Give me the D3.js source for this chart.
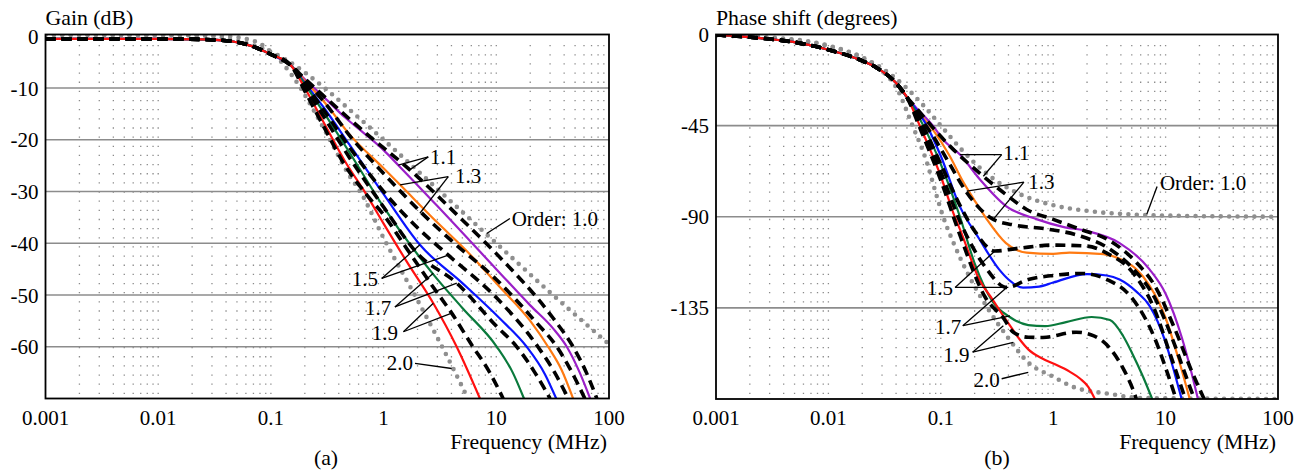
<!DOCTYPE html>
<html>
<head>
<meta charset="utf-8">
<script src="https://cdn.jsdelivr.net/npm/d3@7"></script>
<style>
  body { margin: 0; background: #fff; }
</style>
</head>
<body>
<svg id="chart" width="1308" height="472" font-family="'Liberation Serif', 'Times New Roman', 'DejaVu Serif', serif"></svg>
<script>
// ---- data ----
const freqTicks = [0.001, 0.01, 0.1, 1, 10, 100];
const freqLabels = ["0.001", "0.01", "0.1", "1", "10", "100"];
const gainTicks = [0, -10, -20, -30, -40, -50, -60];
const phaseTicks = [0, -45, -90, -135];

// gain (dB) vs frequency (MHz)
const gainLow = [[0.001, -0.5], [0.01, -0.5], [0.025, -0.6], [0.046, -1.0], [0.07, -2.0], [0.1, -3.5], [0.15, -5.6]];
const gainOrder10 = [[0.001, 0.3], [0.02, 0.2], [0.04, -0.4], [0.06, -1.3], [0.1, -3.0], [0.15, -5.1], [0.2, -7], [0.3, -10], [0.5, -14.2], [1, -20], [3, -29.5], [10, -40], [30, -49.5], [100, -59.5]];
const gainOrder20 = [[0.001, 0.3], [0.03, 0.2], [0.06, -0.5], [0.08, -1.4], [0.1, -3], [0.13, -5.5], [0.18, -9.7], [0.25, -15], [0.334, -20], [0.5, -27], [0.62, -30], [1, -39], [2, -51], [4.1, -64], [5.6, -70]];
const gain11 = [[0.2, -8.3], [0.3, -11.9], [0.45, -15.6], [0.66, -18.6], [1, -22], [1.35, -24.9], [3, -32.8], [10, -45], [20, -52], [32, -56.5], [42.2, -60], [55, -65], [68, -70]];
const gain11d = [[0.2, -8.2], [0.3, -11.7], [0.66, -18.3], [1.71, -25.8], [5, -35.5], [10, -42], [32, -54.5], [48, -60], [63, -65], [78, -70]];
const gain13 = [[0.2, -8.6], [0.3, -12.8], [0.5, -19], [1, -25.5], [1.4, -28.7], [3, -36], [5.3, -41.2], [10.8, -48.5], [20, -55], [28.8, -60], [38, -64.5], [48, -70]];
const gain13d = [[0.2, -8.6], [0.3, -12.8], [0.5, -19.2], [1, -26.5], [2.1, -33.8], [4, -39.5], [10, -47], [22, -55], [34.4, -60], [47, -65], [61, -70]];
const gain15 = [[0.2, -9], [0.3, -14], [0.5, -21], [1, -30.5], [2.1, -40.3], [5, -47.7], [10.7, -54.5], [18.6, -60], [27, -65.3], [34, -70]];
const gain15d = [[0.2, -9.2], [0.3, -14.5], [0.5, -21.5], [1, -30], [2, -37], [3.75, -42.3], [10, -50.5], [23.4, -60], [33, -65], [43.5, -70]];
const gain17 = [[0.2, -9.3], [0.3, -15], [0.5, -22.5], [1, -33], [2.76, -46], [5, -52.5], [10.1, -60], [14, -65], [17.6, -70]];
const gain17d = [[0.2, -9.8], [0.3, -15.8], [0.5, -23.5], [1, -33], [2, -42], [4.46, -47.7], [10, -56], [15.2, -60], [22, -65], [30, -70]];
const gain19 = [[0.2, -10], [0.3, -17], [0.45, -24], [0.7, -30.5], [1, -36.2], [1.6, -43.5], [2.76, -51.6], [4.45, -60], [7.16, -70]];
const gain19d = [[0.2, -10.6], [0.3, -17.8], [0.45, -24.8], [0.7, -30.5], [1, -34.5], [1.6, -41], [2.76, -48.5], [4.02, -53.5], [6.2, -60], [8.5, -64.5], [11.5, -70]];

// phase (degrees) vs frequency (MHz)
const phaseLow = [[0.001, -0.2], [0.0025, -1.8], [0.005, -3.8], [0.01, -7.5], [0.02, -13], [0.027, -16.5], [0.04, -24], [0.05, -31]];
const phaseOrder10 = [[0.001, -0.5], [0.003, -1.7], [0.01, -5.7], [0.02, -11.3], [0.03, -16.7], [0.05, -26.6], [0.07, -35], [0.1, -45], [0.15, -56.3], [0.2, -63.4], [0.3, -71.6], [0.5, -78.7], [1, -84.3], [2, -87.1], [5, -88.9], [10, -89.4], [100, -90]];
const phaseOrder20 = [[0.001, -0.5], [0.005, -2.5], [0.01, -5.5], [0.02, -11.5], [0.03, -18], [0.04, -26], [0.056, -45], [0.075, -63], [0.09, -78], [0.105, -90], [0.13, -103], [0.17, -117], [0.26, -135], [0.4, -150], [0.6, -162], [1, -169], [1.5, -174], [3.2, -177.5], [6, -179.5], [100, -180]];
const phase11 = [[0.06, -36], [0.085, -45], [0.105, -52], [0.148, -59.3], [0.223, -71.6], [0.38, -84.7], [0.72, -91.3], [1.22, -95], [1.98, -97], [3.9, -103], [7.2, -116], [10, -128], [14, -150], [17, -167], [19.4, -180]];
const phase11d = [[0.06, -36], [0.085, -46], [0.12, -55], [0.239, -70], [0.38, -79], [0.58, -86.4], [1, -91.3], [1.74, -96.2], [3, -101], [5.5, -112.6], [8, -124], [12, -145], [17, -166], [22, -180]];
const phase13 = [[0.06, -37], [0.085, -47], [0.12, -60], [0.159, -73], [0.2, -82], [0.255, -91], [0.38, -103], [0.58, -107.7], [1.0, -108.3], [1.4, -107.7], [2.8, -108.5], [4, -111], [5.5, -116], [7.2, -124], [10, -140], [13, -160], [16.4, -180]];
const phase13d = [[0.06, -38], [0.085, -50], [0.12, -64], [0.17, -78], [0.293, -91.3], [0.44, -94], [0.87, -96], [1.74, -99.5], [3.2, -106], [5, -115], [8, -130], [12, -153], [15, -168], [18, -180]];
const phase15 = [[0.075, -45], [0.1, -60], [0.148, -85], [0.22, -101], [0.33, -116], [0.4, -121], [0.54, -125], [0.75, -124.5], [1.0, -122.5], [2, -118.3], [3, -119], [3.9, -121], [5.5, -127], [7.2, -134], [10, -152], [12, -167], [13.9, -180]];
const phase15d = [[0.065, -42], [0.1, -64], [0.15, -85], [0.2, -97], [0.303, -106.9], [0.5, -105.5], [1, -104], [2, -104.5], [3, -108], [5, -117], [8, -136], [11, -158], [15, -180]];
const phase17 = [[0.07, -45], [0.1, -64], [0.148, -90], [0.2, -113], [0.29, -132], [0.41, -139.5], [0.6, -143.5], [0.85, -144], [1.3, -142], [2.2, -139.5], [3.2, -141], [4.2, -149], [5.1, -158], [6.3, -169], [7.6, -180]];
const phase17d = [[0.065, -44], [0.1, -68], [0.15, -93], [0.25, -115], [0.386, -124.9], [0.6, -121], [1, -119], [1.8, -118], [3, -121], [5, -130], [8, -150], [10.5, -168], [12.4, -180]];
const phase19 = [[0.065, -45], [0.1, -70], [0.133, -90], [0.15, -97], [0.22, -121], [0.29, -131], [0.36, -139], [0.44, -146], [0.51, -151], [0.6, -155.5], [0.8, -160], [1.0, -162.5], [1.4, -166.5], [1.74, -170], [2.05, -174], [2.35, -180]];
const phase19d = [[0.065, -46], [0.1, -72], [0.15, -100], [0.25, -130], [0.36, -140], [0.442, -147], [0.6, -149.5], [0.81, -149.6], [1.6, -147], [2.3, -148.8], [3.2, -155], [4.2, -165], [5.1, -175], [5.5, -180]];

const orderColors = { "1.1": "#9b1fc8", "1.3": "#ff7a12", "1.5": "#0a14ff", "1.7": "#0a7a3c", "1.9": "#ff1010" };

// annotation labels: text position, leader start, leader tips (data units)
const gainNotes = [
  { text: "1.1", at: [2.58, -24.6], from: [2.49, -23.3], tips: [[1.35, -24.9], [1.71, -25.8]] },
  { text: "1.3", at: [4.3, -28.3], from: [3.75, -27.1], tips: [[1.4, -28.7], [2.1, -34.2]] },
  { text: "Order: 1.0", at: [13.7, -36.7], from: [13.2, -35.2], tips: [[8.22, -38.1]] },
  { text: "1.5", at: [0.521, -48.3], from: [0.962, -46.8], tips: [[2.1, -40.3], [3.75, -42.3]] },
  { text: "1.7", at: [0.684, -53.9], from: [1.26, -52.3], tips: [[2.76, -45.8], [4.46, -47.7]] },
  { text: "1.9", at: [0.783, -58.7], from: [1.5, -57.1], tips: [[2.76, -51.6], [4.02, -53.5]] },
  { text: "2.0", at: [1.065, -64.5], from: [1.9, -63.2], tips: [[4.02, -64.2]] }
];
const phaseNotes = [
  { text: "1.1", at: [0.36, -62.2], from: [0.348, -59.3], tips: [[0.148, -59.3], [0.239, -70]] },
  { text: "1.3", at: [0.6, -76.5], from: [0.549, -72.9], tips: [[0.17, -77.3], [0.293, -91.3]] },
  { text: "Order: 1.0", at: [8.9, -77], from: [8.4, -75.1], tips: [[6.8, -88.8]] },
  { text: "1.5", at: [0.075, -128.7], from: [0.134, -124.9], tips: [[0.303, -106.9], [0.399, -124.9]] },
  { text: "1.7", at: [0.0888, -148], from: [0.157, -143.8], tips: [[0.386, -124.9], [0.413, -138.9]] },
  { text: "1.9", at: [0.105, -161.7], from: [0.192, -156.9], tips: [[0.36, -143.8], [0.442, -152]] },
  { text: "2.0", at: [0.195, -174], from: [0.348, -170], tips: [[0.6, -166.8]] }
];

// ---- drawing ----
const svg = d3.select("#chart");

function panel(opt) {
  const x = d3.scaleLog().domain([0.001, 100]).range(opt.xRange);
  const y = d3.scaleLinear().domain(opt.yDomain).range(opt.yRange);
  const [x0, x1] = opt.xRange, [yb, yt] = opt.yRange;
  const g = svg.append("g");

  g.append("clipPath").attr("id", opt.id + "clip")
    .append("rect").attr("x", x0).attr("y", yt).attr("width", x1 - x0).attr("height", yb - yt);

  // dotted vertical grid at 1..9 x decade
  const minor = [];
  for (let d = 0.001; d < 99; d *= 10)
    for (let k = 1; k <= 9; k++) { const f = +(k * d).toPrecision(3); if (f > 0.001) minor.push(f); }
  g.selectAll(".vg").data(minor).enter().append("line")
    .attr("x1", d => x(d)).attr("x2", d => x(d))
    .attr("y1", yt + 10.5).attr("y2", yb)
    .attr("stroke", "#8a8a8a").attr("stroke-width", 1.3)
    .attr("stroke-dasharray", "1.3 7.85");

  // solid horizontal grid
  g.selectAll(".hg").data(opt.yTicks.filter(v => v !== 0)).enter().append("line")
    .attr("x1", x0).attr("x2", x1).attr("y1", d => y(d)).attr("y2", d => y(d))
    .attr("stroke", "#8c8c8c").attr("stroke-width", 1.6);

  const line = d3.line().x(d => x(d[0])).y(d => y(d[1])).curve(d3.curveMonotoneX);
  const plot = g.append("g").attr("clip-path", "url(#" + opt.id + "clip)");

  opt.dotted.forEach(s => plot.append("path").attr("d", line(s)).attr("fill", "none")
    .attr("stroke", "#8f8f8f").attr("stroke-width", 4.6).attr("stroke-linecap", "round")
    .attr("stroke-dasharray", "0 8.4"));
  opt.solid.forEach(s => plot.append("path").attr("d", line(opt.low.concat(s.v))).attr("fill", "none")
    .attr("stroke", orderColors[s.order]).attr("stroke-width", 2.2));
  opt.dashed.forEach(s => plot.append("path").attr("d", line(opt.low.concat(s))).attr("fill", "none")
    .attr("stroke", "#000").attr("stroke-width", 3.6).attr("stroke-dasharray", "10 6"));

  // frame
  g.append("rect").attr("x", x0).attr("y", yt).attr("width", x1 - x0).attr("height", yb - yt)
    .attr("fill", "none").attr("stroke", "#000").attr("stroke-width", 1.8);

  // tick labels
  g.selectAll(".yl").data(opt.yTicks).enter().append("text")
    .attr("x", x0 - 7).attr("y", d => y(d)).attr("dy", "0.36em")
    .attr("text-anchor", "end").attr("font-size", 21).text(d => d);
  g.selectAll(".xl").data(freqTicks).enter().append("text")
    .attr("x", d => x(d)).attr("y", yb + 26)
    .attr("text-anchor", "middle").attr("font-size", 21).text((d, i) => freqLabels[i]);

  g.append("text").attr("x", x0).attr("y", yt - 10).attr("font-size", 21.8).text(opt.title);
  g.append("text").attr("x", x1 - 2).attr("y", yb + 50).attr("text-anchor", "end")
    .attr("font-size", 21.8).text("Frequency (MHz)");
  g.append("text").attr("x", opt.tagX).attr("y", yb + 66).attr("text-anchor", "middle")
    .attr("font-size", 21.8).text(opt.tag);

  // annotations
  opt.notes.forEach(n => {
    n.tips.forEach(t => g.append("line")
      .attr("x1", x(n.from[0])).attr("y1", y(n.from[1]))
      .attr("x2", x(t[0])).attr("y2", y(t[1]))
      .attr("stroke", "#000").attr("stroke-width", 1.3));
    g.append("text").attr("x", x(n.at[0])).attr("y", y(n.at[1]))
      .attr("font-size", 21).text(n.text);
  });
}

panel({
  id: "gain", xRange: [45.5, 609], yDomain: [-70, 0.35], yRange: [398.5, 34.5],
  yTicks: gainTicks, title: "Gain (dB)", tag: "(a)", tagX: 326,
  low: gainLow, dotted: [gainOrder10, gainOrder20],
  solid: [{ order: "1.1", v: gain11 }, { order: "1.3", v: gain13 }, { order: "1.5", v: gain15 },
          { order: "1.7", v: gain17 }, { order: "1.9", v: gain19 }],
  dashed: [gain11d, gain13d, gain15d, gain17d, gain19d],
  notes: gainNotes
});

panel({
  id: "phase", xRange: [716, 1278], yDomain: [-180, 0], yRange: [399, 34.5],
  yTicks: phaseTicks, title: "Phase shift (degrees)", tag: "(b)", tagX: 997,
  low: phaseLow, dotted: [phaseOrder10, phaseOrder20],
  solid: [{ order: "1.1", v: phase11 }, { order: "1.3", v: phase13 }, { order: "1.5", v: phase15 },
          { order: "1.7", v: phase17 }, { order: "1.9", v: phase19 }],
  dashed: [phase11d, phase13d, phase15d, phase17d, phase19d],
  notes: phaseNotes
});
</script>
</body>
</html>
